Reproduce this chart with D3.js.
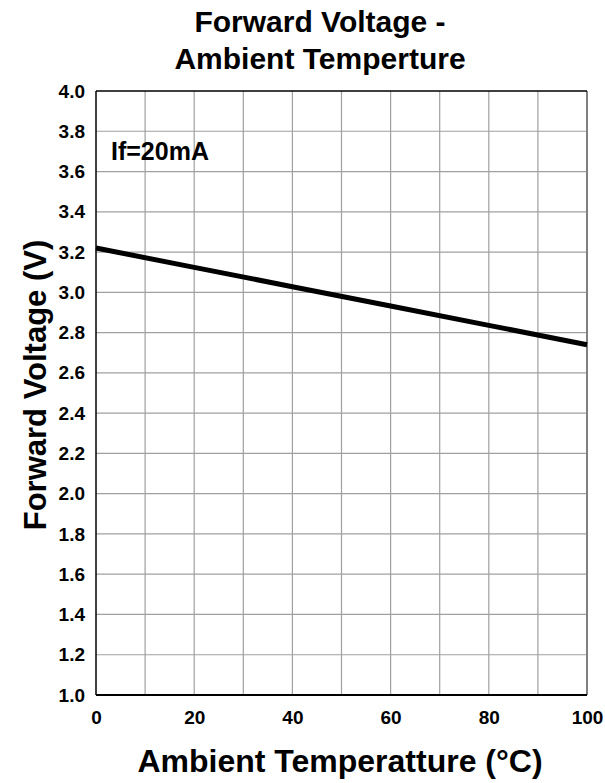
<!DOCTYPE html>
<html>
<head>
<meta charset="utf-8">
<style>
body { margin: 0; background: #fff; }
text { font-family: "Liberation Sans", Arial, sans-serif; font-weight: bold; }
</style>
</head>
<body>
<div id="chart"></div>
<script src="https://d3js.org/d3.v7.min.js"></script>
<script>
// data
const temps = [0, 20, 40, 60, 80, 100]
const volts = [3.22, 3.124, 3.028, 2.932, 2.836, 2.74]
const xTicks = [0, 20, 40, 60, 80, 100]
const yTicks = [1.0, 1.2, 1.4, 1.6, 1.8, 2.0, 2.2, 2.4, 2.6, 2.8, 3.0, 3.2, 3.4, 3.6, 3.8, 4.0]

const W = 605, H = 783
const m = {left: 96, right: 18, top: 91, bottom: 88}

const svg = d3.select("#chart").append("svg")
    .attr("width", W).attr("height", H)

const x = d3.scaleLinear().domain([0, 100]).range([m.left, W - m.right])
const y = d3.scaleLinear().domain([1.0, 4.0]).range([H - m.bottom, m.top])

// grid
const grid = svg.append("g")
grid.selectAll(".vx").data(d3.range(10, 100, 10)).enter().append("line")
    .attr("x1", d => x(d)).attr("x2", d => x(d))
    .attr("y1", y(1.0)).attr("y2", y(4.0))
    .style("stroke", "#a0a0a0").style("stroke-width", 1.2)
grid.selectAll(".hy").data(yTicks.slice(1, -1)).enter().append("line")
    .attr("x1", x(0)).attr("x2", x(100))
    .attr("y1", d => y(d)).attr("y2", d => y(d))
    .style("stroke", "#a0a0a0").style("stroke-width", 1.2)

// frame
svg.append("line").attr("x1", x(100)).attr("x2", x(100)).attr("y1", y(1)).attr("y2", y(4))
    .style("stroke", "#808080").style("stroke-width", 2)
svg.append("line").attr("x1", x(0)).attr("x2", x(100)).attr("y1", y(4)).attr("y2", y(4))
    .style("stroke", "#000").style("stroke-width", 1.5)
svg.append("line").attr("x1", x(0)).attr("x2", x(0)).attr("y1", y(1)).attr("y2", y(4))
    .style("stroke", "#000").style("stroke-width", 1.5)
svg.append("line").attr("x1", x(0)).attr("x2", x(100)).attr("y1", y(1)).attr("y2", y(1))
    .style("stroke", "#000").style("stroke-width", 2)

// axes
const xAxis = svg.append("g").attr("transform", `translate(0,${y(1)})`)
    .call(d3.axisBottom(x).tickValues(xTicks).tickSize(0).tickPadding(16))
xAxis.select(".domain").remove()
xAxis.selectAll("text").style("font-size", "19px").attr("fill", "#000")

const yAxis = svg.append("g").attr("transform", `translate(${x(0)},0)`)
    .call(d3.axisLeft(y).tickValues(yTicks).tickFormat(d3.format(".1f")).tickSize(0).tickPadding(11))
yAxis.select(".domain").remove()
yAxis.selectAll("text").style("font-size", "19px").attr("fill", "#000")

// curve
const line = d3.line().x((d, i) => x(temps[i])).y(d => y(d))
svg.append("path").datum(volts).attr("d", line)
    .style("fill", "none").style("stroke", "#000").style("stroke-width", 5)

// labels
svg.append("text").attr("x", 111).attr("y", 160).style("font-size", "25px").text("If=20mA")

const title = svg.append("text").attr("text-anchor", "middle").style("font-size", "30px")
title.append("tspan").attr("x", 320).attr("y", 32).text("Forward Voltage -")
title.append("tspan").attr("x", 320).attr("y", 69).text("Ambient Temperture")

svg.append("text").attr("text-anchor", "middle").attr("x", 340).attr("y", 772)
    .style("font-size", "32px").text("Ambient Temperatture (°C)")

svg.append("text").attr("text-anchor", "middle")
    .attr("transform", `translate(46,385) rotate(-90)`)
    .style("font-size", "31px").text("Forward Voltage (V)")
</script>
</body>
</html>
